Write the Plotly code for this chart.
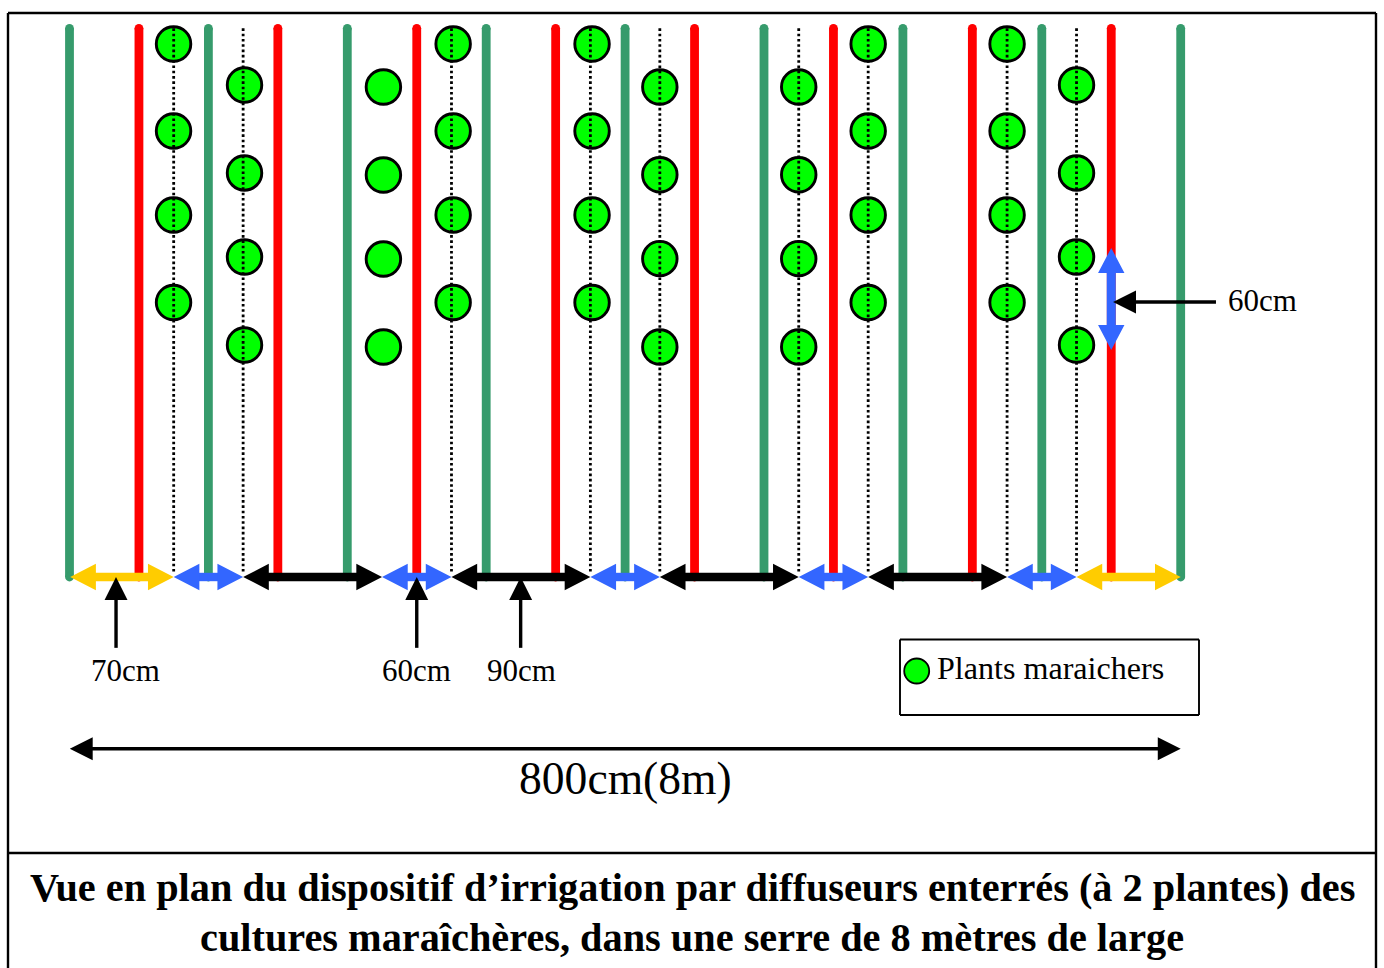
import plotly.graph_objects as go

W, H = 1384, 968
PX_PER_CM = 1.389
X0_PX, Y0_PX = 69.5, 577.0

# Layout of the greenhouse, in cm across the 8 m width
green_lines = [0, 100, 200, 300, 400, 500, 600, 700, 800]
red_lines = [50, 150, 250, 350, 450, 550, 650, 750]
dotted_lines = [75, 125, 275, 375, 425, 525, 575, 675, 725]

plant_x = [74.9, 126, 226, 276.2, 376.2, 425, 525, 575, 675, 725]
plant_y = [
    [383.7, 321.1, 260.6, 197.6],
    [354.2, 290.9, 230.4, 167],
    [352.8, 289.4, 228.9, 165.6],
    [383.7, 321.1, 260.6, 197.6],
    [383.7, 321.1, 260.6, 197.6],
    [352.8, 289.6, 229.2, 165.6],
    [352.8, 289.6, 229.2, 165.6],
    [383.7, 321.1, 260.6, 197.6],
    [383.7, 321.1, 260.6, 197.6],
    [354.2, 290.9, 230.4, 167],
]

yellow_spans = [(0.5, 75), (725, 800)]
blue_spans = [(75, 125), (225, 275), (375, 425), (525, 575), (675, 725)]
black_spans = [(125, 225), (275, 375), (425, 525), (575, 675)]

callout_x = [33.5, 250, 324.8]
callout_labels = ["70cm", "60cm", "90cm"]

LINE_TOP, LINE_BOTTOM = 395, 0
DOT_TOP, DOT_BOTTOM = 395, 2

GREEN = "#369B6C"
RED = "#FF0000"
BLUE = "#3366FF"
YELLOW = "#FFCC00"
PLANT = "#00FF00"


def fx(px):
    return px / W


def fy(py):
    return 1 - py / H


def head(tip_x, tip_y, dx, dy, length, width):
    """Triangle with its point at the tip, pointing along (dx, dy)."""
    bx, by = tip_x - dx * length, tip_y - dy * length
    ox, oy = -dy * width / 2, dx * width / 2
    return [tip_x, bx + ox, bx - ox, tip_x, None], [tip_y, by + oy, by - oy, tip_y, None]


def arrow(fig, x0, y0, x1, y1, color, lw, length, width, both=True):
    """Arrow from (x0,y0) to (x1,y1); head at the end, and at the start if both."""
    n = ((x1 - x0) ** 2 + (y1 - y0) ** 2) ** 0.5
    dx, dy = (x1 - x0) / n, (y1 - y0) / n
    lx0 = x0 + dx * length * 0.9 if both else x0
    ly0 = y0 + dy * length * 0.9 if both else y0
    fig.add_trace(go.Scatter(x=[lx0, x1 - dx * length * 0.9], y=[ly0, y1 - dy * length * 0.9],
                             mode="lines", line=dict(color=color, width=lw)))
    hx, hy = head(x1, y1, dx, dy, length, width)
    if both:
        ax, ay = head(x0, y0, -dx, -dy, length, width)
        hx, hy = hx + ax, hy + ay
    fig.add_trace(go.Scatter(x=hx, y=hy, mode="lines", fill="toself", fillcolor=color,
                             line=dict(color=color, width=0)))


fig = go.Figure()

# Drip lines
for xs, col in ((green_lines, GREEN), (red_lines, RED)):
    for x in xs:
        fig.add_trace(go.Scatter(x=[x, x], y=[LINE_TOP, LINE_BOTTOM], mode="lines+markers",
                                 line=dict(color=col, width=8.8),
                                 marker=dict(color=col, size=8.8, line=dict(width=0))))

# Plants
for x, ys in zip(plant_x, plant_y):
    fig.add_trace(go.Scatter(x=[x] * len(ys), y=ys, mode="markers",
                             marker=dict(color=PLANT, size=34.5,
                                         line=dict(color="black", width=2.9))))

# Planting lines
for x in dotted_lines:
    fig.add_trace(go.Scatter(x=[x, x], y=[DOT_TOP, DOT_BOTTOM], mode="lines",
                             line=dict(color="black", width=2.8, dash="2.6px,2.7px")))

# Spacing arrows
for spans, col in ((yellow_spans, YELLOW), (blue_spans, BLUE), (black_spans, "black")):
    for a, b in spans:
        arrow(fig, a, 0, b, 0, col, 8.4, 18.5, 19)

# Call-outs
for x in callout_x:
    arrow(fig, x, -51, x, 0, "black", 3.4, 16.5, 16.5, both=False)
arrow(fig, 750, 163.4, 750, 236.9, BLUE, 9, 18, 19)
arrow(fig, 825.4, 198, 751.3, 198, "black", 3.4, 16.5, 16.5, both=False)
arrow(fig, 0.2, -123.6, 800, -123.6, "black", 3.6, 16.5, 16.5)

# Legend marker
fig.add_trace(go.Scatter(x=[(916.7 - X0_PX) / PX_PER_CM], y=[(Y0_PX - 671) / PX_PER_CM], mode="markers",
                         marker=dict(color=PLANT, size=25, line=dict(color="black", width=1.8))))

SERIF = "Liberation Serif"


def label(text, px, py, size, bold=False, anchor="center"):
    t = f"<b>{text}</b>" if bold else text
    fig.add_annotation(text=t, xref="paper", yref="paper", x=fx(px), y=fy(py), showarrow=False,
                       xanchor=anchor, yanchor="middle", align="center",
                       font=dict(family=SERIF, size=size, color="black"))


for text, px in zip(callout_labels, (125, 416.5, 521)):
    label(text, px, 670, 31)
label("60cm", 1262, 301, 31)
label("Plants maraichers", 1050, 667.5, 32.1)
label("800cm(8m)", 625.5, 778.5, 45.6)
label("Vue en plan du dispositif d’irrigation par diffuseurs enterrés (à 2 plantes) des", 692, 887, 40.3, bold=True)
label("cultures maraîchères, dans une serre de 8 mètres de large", 692, 937, 40.3, bold=True)

# Frame
shapes = [
    ((8, 13), (1376, 13), 2.4),
    ((8, 13), (8, 968), 2.4),
    ((1376, 13), (1376, 968), 2.4),
    ((8, 853), (1376, 853), 2.4),
    ((900, 639.5), (1199, 639.5), 1.9),
    ((900, 715), (1199, 715), 1.9),
    ((900, 639.5), (900, 715), 1.9),
    ((1199, 639.5), (1199, 715), 1.9),
]
for (a, b), (c, d), w in shapes:
    fig.add_shape(type="line", xref="paper", yref="paper", x0=fx(a), y0=fy(b), x1=fx(c), y1=fy(d),
                  line=dict(color="black", width=w))

fig.update_layout(
    width=W, height=H, margin=dict(l=0, r=0, t=0, b=0, pad=0),
    paper_bgcolor="white", plot_bgcolor="white", showlegend=False, hovermode=False,
    xaxis=dict(visible=False, range=[-X0_PX / PX_PER_CM, (W - X0_PX) / PX_PER_CM], fixedrange=True),
    yaxis=dict(visible=False, range=[-(H - Y0_PX) / PX_PER_CM, Y0_PX / PX_PER_CM], fixedrange=True),
)

fig.write_html("out.html", config=dict(displayModeBar=False),
               post_script="document.body.style.margin='0';document.body.style.overflow='hidden';")
